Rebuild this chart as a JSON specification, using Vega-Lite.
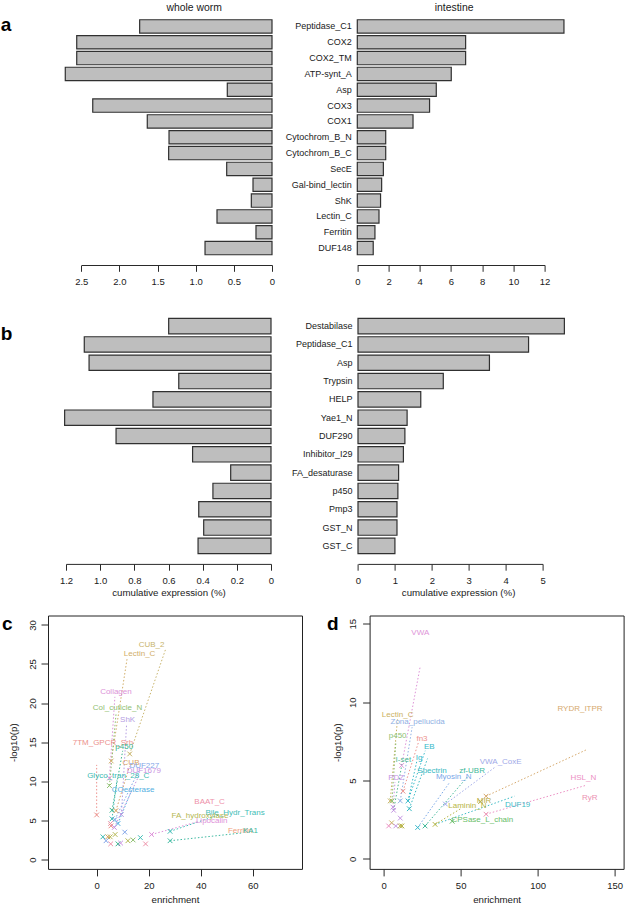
{
  "$schema": "https://vega.github.io/schema/vega-lite/v6.json",
  "background": "white",
  "padding": {"left": 0, "top": 1.5, "right": 0, "bottom": 0},
  "autosize": {"type": "pad"},
  "bounds": "flush",
  "columns": 2,
  "spacing": {"row": 60.5, "column": 67.6},
  "datasets": {
    "a": [
      {"name": "Peptidase_C1", "worm": 1.735, "intestine": 13.24},
      {"name": "COX2", "worm": 2.56, "intestine": 6.94},
      {"name": "COX2_TM", "worm": 2.56, "intestine": 6.94},
      {"name": "ATP-synt_A", "worm": 2.71, "intestine": 6.02},
      {"name": "Asp", "worm": 0.586, "intestine": 5.06},
      {"name": "COX3", "worm": 2.35, "intestine": 4.63},
      {"name": "COX1", "worm": 1.635, "intestine": 3.57},
      {"name": "Cytochrom_B_N", "worm": 1.35, "intestine": 1.82},
      {"name": "Cytochrom_B_C", "worm": 1.355, "intestine": 1.82},
      {"name": "SecE", "worm": 0.594, "intestine": 1.67},
      {"name": "Gal-bind_lectin", "worm": 0.249, "intestine": 1.56},
      {"name": "ShK", "worm": 0.271, "intestine": 1.49},
      {"name": "Lectin_C", "worm": 0.721, "intestine": 1.39},
      {"name": "Ferritin", "worm": 0.21, "intestine": 1.13},
      {"name": "DUF148", "worm": 0.878, "intestine": 1.02}
    ],
    "b": [
      {"name": "Destabilase", "worm": 0.599, "intestine": 5.59},
      {"name": "Peptidase_C1", "worm": 1.093, "intestine": 4.62},
      {"name": "Asp", "worm": 1.065, "intestine": 3.56},
      {"name": "Trypsin", "worm": 0.54, "intestine": 2.31},
      {"name": "HELP", "worm": 0.691, "intestine": 1.7},
      {"name": "Yae1_N", "worm": 1.208, "intestine": 1.33},
      {"name": "DUF290", "worm": 0.907, "intestine": 1.27},
      {"name": "Inhibitor_I29", "worm": 0.459, "intestine": 1.23},
      {"name": "FA_desaturase", "worm": 0.236, "intestine": 1.1},
      {"name": "p450", "worm": 0.34, "intestine": 1.08},
      {"name": "Pmp3", "worm": 0.423, "intestine": 1.056},
      {"name": "GST_N", "worm": 0.394, "intestine": 1.056},
      {"name": "GST_C", "worm": 0.427, "intestine": 1.0}
    ],
    "cPts": [
      {"e": 0, "p": 5.7, "g": "7TM_GPCR_Srh"},
      {"e": 5.6, "p": 12.6, "g": "Lectin_C"},
      {"e": 12.7, "p": 13.5, "g": "CUB_2"},
      {"e": 4.9, "p": 10.4, "g": "Collagen"},
      {"e": 4.9, "p": 9.45, "g": "Col_cuticle_N"},
      {"e": 5.9, "p": 6.3, "g": "p450"},
      {"e": 7.4, "p": 6.25, "g": "CUB"},
      {"e": 9.5, "p": 5.75, "g": "ShK"},
      {"e": 5.9, "p": 5.2, "g": "Glyco_tran_28_C"},
      {"e": 7.0, "p": 5.1, "g": "DUF227"},
      {"e": 8.2, "p": 4.6, "g": "COesterase"},
      {"e": 5.3, "p": 4.6, "g": "BAAT_C"},
      {"e": 5.5, "p": 4.3, "g": "7TM_GPCR_Srh"},
      {"e": 6.8, "p": 4.1, "g": "DUF1679"},
      {"e": 10.8, "p": 3.5, "g": "DUF227"},
      {"e": 7.1, "p": 3.2, "g": "FA_hydroxylase"},
      {"e": 2.4, "p": 2.9, "g": "Glyco_tran_28_C"},
      {"e": 4.3, "p": 2.9, "g": "CUB"},
      {"e": 5.2, "p": 2.9, "g": "FA_hydroxylase"},
      {"e": 3.6, "p": 2.4, "g": "DUF227"},
      {"e": 5.4, "p": 2.0, "g": "BAAT_C"},
      {"e": 8.2, "p": 2.0, "g": "p450"},
      {"e": 9.2, "p": 2.1, "g": "DUF1679"},
      {"e": 12.0, "p": 2.4, "g": "FA_hydroxylase"},
      {"e": 14.0, "p": 2.5, "g": "Col_cuticle_N"},
      {"e": 16.8, "p": 2.8, "g": "Bile_Hydr_Trans"},
      {"e": 18.8, "p": 2.0, "g": "BAAT_C"},
      {"e": 21.1, "p": 3.2, "g": "Lipocalin"},
      {"e": 28.2, "p": 3.6, "g": "Bile_Hydr_Trans"},
      {"e": 28.2, "p": 2.4, "g": "KA1"}
    ],
    "cLines": [
      {"g": "7TM_GPCR_Srh", "e": 0, "p": 5.7, "e2": 0, "p2": 12.1},
      {"g": "Lectin_C", "e": 5.6, "p": 12.6, "e2": 11.7, "p2": 25.7},
      {"g": "CUB_2", "e": 12.7, "p": 13.5, "e2": 26.4, "p2": 26.8},
      {"g": "Collagen", "e": 4.9, "p": 10.4, "e2": 7.0, "p2": 20.8},
      {"g": "Col_cuticle_N", "e": 4.9, "p": 9.45, "e2": 7.5, "p2": 18.8},
      {"g": "ShK", "e": 9.5, "p": 5.75, "e2": 11.5, "p2": 17.3},
      {"g": "p450", "e": 5.9, "p": 6.3, "e2": 10.0, "p2": 13.9},
      {"g": "CUB", "e": 7.4, "p": 6.25, "e2": 12.6, "p2": 11.9},
      {"g": "DUF227", "e": 7.0, "p": 5.1, "e2": 16.5, "p2": 11.6},
      {"g": "DUF1679", "e": 6.8, "p": 4.1, "e2": 16.5, "p2": 10.9},
      {"g": "Glyco_tran_28_C", "e": 5.9, "p": 5.2, "e2": 7.8, "p2": 10.2},
      {"g": "COesterase", "e": 8.2, "p": 4.6, "e2": 13.0, "p2": 8.5},
      {"g": "Lipocalin", "e": 21.1, "p": 3.2, "e2": 38.5, "p2": 4.8},
      {"g": "Bile_Hydr_Trans", "e": 28.2, "p": 3.6, "e2": 47, "p2": 5.7},
      {"g": "KA1", "e": 28.2, "p": 2.4, "e2": 56, "p2": 3.4}
    ],
    "cLab": [
      {"g": "CUB_2", "e": 21.1, "p": 27.4},
      {"g": "Lectin_C", "e": 16.5, "p": 26.3},
      {"g": "Collagen", "e": 7.4, "p": 21.4},
      {"g": "Col_cuticle_N", "e": 8.0, "p": 19.4},
      {"g": "ShK", "e": 11.9, "p": 17.9},
      {"g": "7TM_GPCR_Srh", "e": 2.4, "p": 14.9},
      {"g": "p450", "e": 10.6, "p": 14.4},
      {"g": "CUB", "e": 13.2, "p": 12.4},
      {"g": "DUF227", "e": 18.3, "p": 12.0},
      {"g": "DUF1679", "e": 18.1, "p": 11.3},
      {"g": "Glyco_tran_28_C", "e": 8.3, "p": 10.7},
      {"g": "COesterase", "e": 14.0, "p": 8.9},
      {"g": "BAAT_C", "e": 43.4, "p": 7.36},
      {"g": "Bile_Hydr_Trans", "e": 53.2, "p": 5.95},
      {"g": "FA_hydroxylase", "e": 39.7, "p": 5.6},
      {"g": "Lipocalin", "e": 44.2, "p": 4.9},
      {"g": "Ferritin", "e": 55.2, "p": 3.6},
      {"g": "KA1", "e": 59.1, "p": 3.6}
    ],
    "dPts": [
      {"e": 11.7, "p": 5.96, "g": "VWA"},
      {"e": 12.6, "p": 4.32, "g": "fn3"},
      {"e": 4.3, "p": 3.7, "g": "Lectin_C"},
      {"e": 5.4, "p": 3.7, "g": "p450"},
      {"e": 10.8, "p": 3.7, "g": "Zona_pellucida"},
      {"e": 15.8, "p": 3.7, "g": "EB"},
      {"e": 16.7, "p": 3.2, "g": "Spectrin"},
      {"e": 6.1, "p": 3.3, "g": "PDZ"},
      {"e": 6.5, "p": 3.1, "g": "PDZ"},
      {"e": 10.8, "p": 2.6, "g": "PDZ"},
      {"e": 5.2, "p": 2.3, "g": "Lectin_C"},
      {"e": 3.3, "p": 2.1, "g": "HSL_N"},
      {"e": 7.9, "p": 2.1, "g": "PDZ"},
      {"e": 10.8, "p": 2.1, "g": "MIR"},
      {"e": 11.9, "p": 2.1, "g": "Laminin_N"},
      {"e": 22.1, "p": 2.0, "g": "Ig"},
      {"e": 26.9, "p": 2.1, "g": "zf-UBR"},
      {"e": 33.4, "p": 2.2, "g": "Laminin_N"},
      {"e": 40.1, "p": 3.5, "g": "VWA_CoxE"},
      {"e": 44.5, "p": 2.4, "g": "CPSase_L_chain"},
      {"e": 66.5, "p": 4.0, "g": "RYDR_ITPR"},
      {"e": 66.5, "p": 2.85, "g": "RyR"},
      {"e": 62.9, "p": 3.65, "g": "MIR"}
    ],
    "dLines": [
      {"g": "VWA", "e": 11.7, "p": 5.96, "e2": 23.8, "p2": 12.3},
      {"g": "RYDR_ITPR", "e": 66.5, "p": 4.0, "e2": 132.5, "p2": 7.0},
      {"g": "HSL_N", "e": 66.5, "p": 2.85, "e2": 131.6, "p2": 4.7},
      {"g": "VWA_CoxE", "e": 40.1, "p": 3.5, "e2": 73, "p2": 5.9},
      {"g": "Myosin_N", "e": 22.1, "p": 2.0, "e2": 43, "p2": 4.9},
      {"g": "zf-UBR", "e": 26.9, "p": 2.1, "e2": 55, "p2": 5.3},
      {"g": "DUF19", "e": 33.4, "p": 2.2, "e2": 85, "p2": 4.0},
      {"g": "Laminin_N", "e": 33.4, "p": 2.2, "e2": 50, "p2": 3.2},
      {"g": "Spectrin", "e": 16.7, "p": 3.2, "e2": 28.5, "p2": 6.4},
      {"g": "EB", "e": 15.8, "p": 3.7, "e2": 27, "p2": 6.9},
      {"g": "Ig", "e": 15.8, "p": 3.7, "e2": 21.5, "p2": 6.2},
      {"g": "fn3", "e": 12.6, "p": 4.32, "e2": 22.5, "p2": 7.4},
      {"g": "Zona_pellucida", "e": 10.8, "p": 3.7, "e2": 18.5, "p2": 8.4},
      {"g": "Lectin_C", "e": 4.3, "p": 3.7, "e2": 9.0, "p2": 8.9},
      {"g": "p450", "e": 5.4, "p": 3.7, "e2": 8.0, "p2": 7.5},
      {"g": "I-set", "e": 6.5, "p": 3.1, "e2": 12.0, "p2": 6.1},
      {"g": "PDZ", "e": 6.1, "p": 3.3, "e2": 7.4, "p2": 4.9}
    ],
    "dLab": [
      {"g": "VWA", "e": 23.8, "p": 14.4},
      {"g": "RYDR_ITPR", "e": 127.5, "p": 9.57},
      {"g": "Lectin_C", "e": 9.1, "p": 9.2},
      {"g": "Zona_pellucida", "e": 22.1, "p": 8.75},
      {"g": "p450", "e": 9.1, "p": 7.83},
      {"g": "fn3", "e": 24.9, "p": 7.62},
      {"g": "EB", "e": 29.7, "p": 7.17},
      {"g": "I-set", "e": 12.8, "p": 6.34},
      {"g": "Ig", "e": 23.0, "p": 6.45},
      {"g": "VWA_CoxE", "e": 76.0, "p": 6.19},
      {"g": "Spectrin", "e": 31.4, "p": 5.6},
      {"g": "zf-UBR", "e": 57.4, "p": 5.6},
      {"g": "Myosin_N", "e": 45.5, "p": 5.23},
      {"g": "PDZ", "e": 8.2, "p": 5.17},
      {"g": "HSL_N", "e": 129.7, "p": 5.13},
      {"g": "RyR", "e": 133.8, "p": 3.9},
      {"g": "MIR", "e": 65.2, "p": 3.68},
      {"g": "Laminin_N", "e": 54.4, "p": 3.36},
      {"g": "DUF19", "e": 87.0, "p": 3.43},
      {"g": "CPSase_L_chain", "e": 64.1, "p": 2.51}
    ]
  },
  "concat": [
    {
      "width": 254, "height": 237.5,
      "data": {"name": "a"},
      "mark": {"type": "bar", "fill": "#BEBEBE", "stroke": "#303030", "strokeWidth": 1.2},
      "encoding": {
        "y": {"field": "name", "type": "nominal", "sort": null,
          "scale": {"paddingInner": 0.155, "paddingOuter": 0.0775},
          "axis": {"labels": false, "ticks": false, "tickSize": 0, "domain": false, "title": "a", "titleAngle": 0, "titleAlign": "left", "titleBaseline": "alphabetic", "titleX": -47.7, "titleY": 12.2, "titleFontSize": 19, "titleFontWeight": "bold", "titleColor": "#000"}},
        "x": {"field": "worm", "type": "quantitative",
          "scale": {"domain": [0, 2.5], "range": [224, 33.3], "nice": false},
          "axis": {"values": [0, 0.5, 1, 1.5, 2, 2.5], "labelExpr": "datum.value == 0 ? '0' : format(datum.value, '.1f')", "offset": 9, "tickSize": 6.3, "labelPadding": 10.4, "labelBaseline": "middle", "title": "whole worm", "titleX": 145.6, "titleY": -257.6, "titleBaseline": "middle", "titleFontSize": 10.4}}
      }
    },
    {
      "width": 254, "height": 237.5,
      "data": {"name": "a"},
      "mark": {"type": "bar", "fill": "#BEBEBE", "stroke": "#303030", "strokeWidth": 1.2},
      "encoding": {
        "y": {"field": "name", "type": "nominal", "sort": null,
          "scale": {"paddingInner": 0.155, "paddingOuter": 0.0775},
          "axis": {"title": null, "ticks": false, "tickSize": 0, "domain": false, "labelPadding": 18.3, "labelFontSize": 9, "labelLimit": 200}},
        "x": {"field": "intestine", "type": "quantitative",
          "scale": {"domain": [0, 12], "range": [-12.3, 175], "nice": false},
          "axis": {"values": [0, 2, 4, 6, 8, 10, 12], "offset": 9, "tickSize": 6.3, "labelPadding": 10.4, "labelBaseline": "middle", "title": "intestine", "titleX": 84, "titleY": -257.6, "titleBaseline": "middle", "titleFontSize": 10.4}}
      }
    },
    {
      "width": 254, "height": 238,
      "data": {"name": "b"},
      "mark": {"type": "bar", "fill": "#BEBEBE", "stroke": "#303030", "strokeWidth": 1.2},
      "encoding": {
        "y": {"field": "name", "type": "nominal", "sort": null,
          "scale": {"paddingInner": 0.16, "paddingOuter": 0.08},
          "axis": {"labels": false, "ticks": false, "tickSize": 0, "domain": false, "title": "b", "titleAngle": 0, "titleAlign": "left", "titleBaseline": "alphabetic", "titleX": -47.7, "titleY": 22.5, "titleFontSize": 19, "titleFontWeight": "bold", "titleColor": "#000"}},
        "x": {"field": "worm", "type": "quantitative",
          "scale": {"domain": [0, 1.2], "range": [223, 18], "nice": false},
          "axis": {"values": [0, 0.2, 0.4, 0.6, 0.8, 1, 1.2], "labelExpr": "datum.value == 0 ? '0' : format(datum.value, '.1f')", "offset": 8.9, "tickSize": 6.3, "labelPadding": 10.4, "labelBaseline": "middle", "title": "cumulative expression (%)", "titleX": 120.5, "titleY": 28.3, "titleBaseline": "middle"}}
      }
    },
    {
      "width": 254, "height": 238,
      "data": {"name": "b"},
      "mark": {"type": "bar", "fill": "#BEBEBE", "stroke": "#303030", "strokeWidth": 1.2},
      "encoding": {
        "y": {"field": "name", "type": "nominal", "sort": null,
          "scale": {"paddingInner": 0.16, "paddingOuter": 0.08},
          "axis": {"title": null, "ticks": false, "tickSize": 0, "domain": false, "labelPadding": 17.6, "labelFontSize": 9, "labelLimit": 200}},
        "x": {"field": "intestine", "type": "quantitative",
          "scale": {"domain": [0, 5], "range": [-11.6, 173], "nice": false},
          "axis": {"values": [0, 1, 2, 3, 4, 5], "offset": 8.9, "tickSize": 6.3, "labelPadding": 10.4, "labelBaseline": "middle", "title": "cumulative expression (%)", "titleX": 88.5, "titleY": 28.3, "titleBaseline": "middle"}}
      }
    },
    {
      "width": 254, "height": 253.4,
      "view": {"stroke": "#222", "strokeWidth": 1},
      "title": {"text": "c", "anchor": "start", "frame": "group", "dx": -46, "dy": 33.7, "offset": 0, "baseline": "alphabetic", "fontSize": 19, "fontWeight": "bold", "color": "#000"},
      "encoding": {
        "x": {"field": "e", "type": "quantitative", "scale": {"domain": [-18.7, 78.9], "nice": false, "zero": false},
          "axis": {"values": [0, 20, 40, 60], "domain": false, "tickSize": 7, "labelPadding": 10, "labelBaseline": "middle", "title": "enrichment", "titleY": 30.6, "titleBaseline": "middle"}},
        "y": {"field": "p", "type": "quantitative", "scale": {"domain": [-1.2, 31.2], "nice": false, "zero": false},
          "axis": {"values": [0, 5, 10, 15, 20, 25, 30], "domain": false, "tickSize": 7, "labelAngle": -90, "labelAlign": "center", "labelBaseline": "middle", "labelPadding": 9, "title": "-log10(p)", "titleX": -34.4, "titleY": 126.7, "titleAngle": -90, "titleAlign": "center", "titleBaseline": "middle"}},
        "color": {"field": "g", "type": "nominal", "legend": null,
          "scale": {
            "domain": ["CUB_2", "Lectin_C", "Collagen", "Col_cuticle_N", "ShK", "7TM_GPCR_Srh", "p450", "CUB", "DUF227", "DUF1679", "Glyco_tran_28_C", "COesterase", "BAAT_C", "Bile_Hydr_Trans", "FA_hydroxylase", "Lipocalin", "Ferritin", "KA1"],
            "range": ["#C8B46C", "#D1AE68", "#DC92D8", "#8FC071", "#B59DE2", "#EC918C", "#39B48E", "#D9A262", "#83A5E8", "#C892E2", "#3DBAB2", "#52AFDF", "#EE91A9", "#3EBDB6", "#B4B752", "#DE90D9", "#EFA07E", "#3FBAA2"]}}
      },
      "layer": [
        {"data": {"name": "cLines"}, "mark": {"type": "rule", "strokeDash": [1.5, 2], "strokeWidth": 1}, "encoding": {"x2": {"field": "e2"}, "y2": {"field": "p2"}}},
        {"data": {"name": "cPts"}, "mark": {"type": "point", "shape": "M-1,-1L1,1M-1,1L1,-1", "filled": false, "size": 22, "strokeWidth": 1, "opacity": 1}},
        {"data": {"name": "cLab"}, "mark": {"type": "text", "fontSize": 8, "align": "center", "baseline": "middle"}, "encoding": {"text": {"field": "g"}}}
      ]
    },
    {
      "width": 254, "height": 253.4,
      "view": {"stroke": "#222", "strokeWidth": 1},
      "title": {"text": "d", "anchor": "start", "frame": "group", "dx": -42.6, "dy": 33.7, "offset": 0, "baseline": "alphabetic", "fontSize": 19, "fontWeight": "bold", "color": "#000"},
      "encoding": {
        "x": {"field": "e", "type": "quantitative", "scale": {"domain": [-9.1, 155.8], "nice": false, "zero": false},
          "axis": {"values": [0, 50, 100, 150], "domain": false, "tickSize": 7, "labelPadding": 10, "labelBaseline": "middle", "title": "enrichment", "titleY": 30.6, "titleBaseline": "middle"}},
        "y": {"field": "p", "type": "quantitative", "scale": {"domain": [-0.64, 15.53], "nice": false, "zero": false},
          "axis": {"values": [0, 5, 10, 15], "domain": false, "tickSize": 7, "labelAngle": -90, "labelAlign": "center", "labelBaseline": "middle", "labelPadding": 10, "title": "-log10(p)", "titleX": -32.6, "titleY": 126.7, "titleAngle": -90, "titleAlign": "center", "titleBaseline": "middle"}},
        "color": {"field": "g", "type": "nominal", "legend": null,
          "scale": {
            "domain": ["VWA", "RYDR_ITPR", "Lectin_C", "Zona_pellucida", "p450", "fn3", "EB", "I-set", "Ig", "VWA_CoxE", "Spectrin", "zf-UBR", "Myosin_N", "PDZ", "HSL_N", "RyR", "MIR", "Laminin_N", "DUF19", "CPSase_L_chain"],
            "range": ["#DE94D8", "#D6A96C", "#CBB162", "#8FB1E4", "#8DC172", "#EC918C", "#36B9C9", "#4FB992", "#36B9C9", "#A0A9E8", "#36B9C2", "#3FB99A", "#79A7E8", "#C595E3", "#EC90C4", "#EC91B2", "#BAAF4A", "#B7B544", "#3DBBC6", "#67BD67"]}}
      },
      "layer": [
        {"data": {"name": "dLines"}, "mark": {"type": "rule", "strokeDash": [1.5, 2], "strokeWidth": 1}, "encoding": {"x2": {"field": "e2"}, "y2": {"field": "p2"}}},
        {"data": {"name": "dPts"}, "mark": {"type": "point", "shape": "M-1,-1L1,1M-1,1L1,-1", "filled": false, "size": 22, "strokeWidth": 1, "opacity": 1}},
        {"data": {"name": "dLab"}, "mark": {"type": "text", "fontSize": 8, "align": "center", "baseline": "middle"}, "encoding": {"text": {"field": "g"}}}
      ]
    }
  ],
  "resolve": {"scale": {"color": "independent", "x": "independent", "y": "independent"}},
  "config": {
    "font": "Liberation Sans",
    "view": {"stroke": null},
    "axis": {"grid": false, "labelFont": "Liberation Sans", "titleFont": "Liberation Sans", "labelFontSize": 9.5, "titleFontSize": 9.7, "titleFontWeight": "normal", "labelColor": "#1a1a1a", "titleColor": "#1a1a1a", "domainColor": "#2a2a2a", "tickColor": "#2a2a2a", "domainWidth": 1, "tickWidth": 1, "labelFlush": false, "labelOverlap": false},
    "title": {"font": "Liberation Sans"},
    "text": {"font": "Liberation Sans"}
  }
}
